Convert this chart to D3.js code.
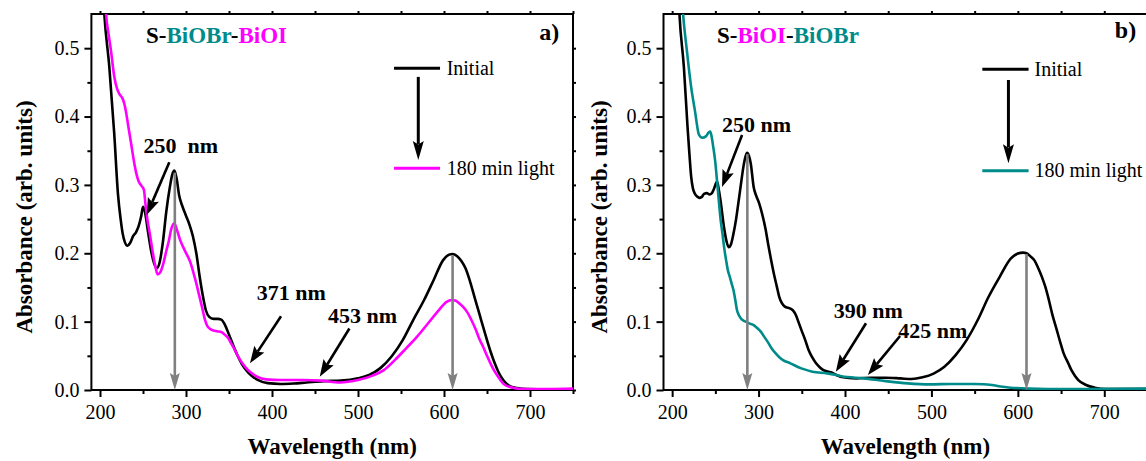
<!DOCTYPE html>
<html><head><meta charset="utf-8">
<script src="https://cdn.jsdelivr.net/npm/d3@7"></script>
<style>
body{margin:0;background:#fff}
svg{display:block}
svg text{font-family:"Liberation Serif","Times New Roman",Tinos,Times,"Nimbus Roman","DejaVu Serif",serif !important}
</style>
</head><body>
<svg id="c" width="1146" height="461"></svg>
<script>
// ---------- axes ----------
const xDomain = [190, 750];
const yDomain = [0, 0.55];
const xTicks = [200, 300, 400, 500, 600, 700];
const xMinorTicks = [250, 350, 450, 550, 650, 750];
const yTicks = [0, 0.1, 0.2, 0.3, 0.4, 0.5];
const yTickLabels = ["0.0", "0.1", "0.2", "0.3", "0.4", "0.5"];
const yMinorTicks = [0.05, 0.15, 0.25, 0.35, 0.45];
const xTitle = "Wavelength (nm)";
const yTitle = "Absorbance (arb. units)";

// ---------- panel a : S-BiOBr-BiOI ----------
const aInitialWl  = [202,205,210.8,216.5,221,224,226.5,229,232,235,238.5,242,245,248,250,252,256,260,263,266,269,273,277,281,284,286.5,289,292,296,300,304,308,312,316,320,323,327,332,337,341,345,350,355,360,365,370,376,384,395,410,425,440,460,480,500,513,526,539,552,564,577,588,599,606,610,615,620,625,630,635,641,646,650,655,659,663,667,672,678,685,697,720,750];
const aInitialAbs = [0.62,0.55,0.473,0.376,0.285,0.25,0.228,0.216,0.211,0.215,0.225,0.231,0.24,0.255,0.268,0.262,0.23,0.2,0.185,0.178,0.185,0.215,0.26,0.295,0.315,0.321,0.31,0.285,0.268,0.255,0.242,0.225,0.2,0.165,0.135,0.117,0.107,0.104,0.104,0.103,0.096,0.081,0.065,0.05,0.038,0.029,0.021,0.0145,0.01,0.0088,0.0095,0.011,0.013,0.0137,0.017,0.022,0.032,0.049,0.073,0.102,0.132,0.161,0.19,0.198,0.199,0.196,0.189,0.178,0.16,0.138,0.112,0.09,0.073,0.053,0.039,0.027,0.018,0.01,0.005,0.003,0.0015,0.0012,0.0012];
const aLightWl  = [204,207,210,212.7,216.5,220,223,226,228,230.5,233,236,239,242,245,248,251,253,255,258,261.5,264.5,267,270,273.6,277,280,283,286.5,289,293,299,305,309,312,315,318.5,322,325,330,336,341,345,349,353,357,361,365.5,370,374,382.6,393,410,436,457,479,500,517,530,543,556,568.7,581.5,594,603,609,613,617.6,622,626.4,632,637,641,645.6,650,654,658,663,667,671,680,693,727,750];
const aLightAbs = [0.62,0.55,0.52,0.497,0.459,0.44,0.432,0.427,0.42,0.405,0.385,0.362,0.338,0.318,0.305,0.299,0.293,0.27,0.25,0.228,0.2,0.18,0.169,0.172,0.185,0.203,0.218,0.236,0.244,0.236,0.22,0.203,0.187,0.17,0.156,0.14,0.122,0.103,0.093,0.088,0.086,0.085,0.081,0.076,0.067,0.058,0.048,0.039,0.032,0.027,0.0195,0.0156,0.0146,0.0146,0.0137,0.011,0.0146,0.021,0.029,0.044,0.061,0.078,0.0976,0.117,0.129,0.1317,0.131,0.127,0.122,0.115,0.102,0.088,0.075,0.063,0.05,0.039,0.029,0.0195,0.012,0.0073,0.0034,0.0015,0.0015,0.002];

// ---------- panel b : S-BiOI-BiOBr ----------
const bInitialWl  = [206,208.5,213.6,217.8,220,222,224,226.3,229,231.4,234,237,240,243.3,246,248,250,252,254,256,260,263,265.4,268,271,274,277,280,282.4,285,286.7,289,291,294.3,297,300.7,305,308,311,314.5,317.7,321,324,327,330.4,336.8,340,343,346,349.5,354,358,362,366.5,371,375,383.5,390,396,413,430,447,464,477,489.7,502.5,515,528,540.7,553.4,566,579,591.7,600,606,610,615,619,623,627.8,632,636,640,645,649,653,658,662,666,670,679,689,702,750];
const bInitialAbs = [0.62,0.549,0.472,0.385,0.345,0.312,0.295,0.287,0.283,0.281,0.282,0.287,0.288,0.286,0.288,0.293,0.3,0.305,0.293,0.277,0.238,0.217,0.209,0.213,0.229,0.25,0.277,0.305,0.326,0.342,0.347,0.342,0.331,0.297,0.285,0.273,0.253,0.236,0.214,0.19,0.17,0.152,0.136,0.127,0.122,0.119,0.116,0.11,0.1,0.088,0.073,0.058,0.048,0.039,0.033,0.029,0.026,0.022,0.019,0.017,0.018,0.018,0.017,0.016,0.0185,0.024,0.034,0.051,0.073,0.102,0.136,0.1655,0.192,0.1996,0.201,0.2,0.195,0.19,0.18,0.1655,0.15,0.131,0.11,0.088,0.07,0.0535,0.04,0.029,0.021,0.0146,0.0073,0.0034,0.0015,0.0015];
const bLightWl  = [209,212.7,217,222,226.3,230.6,233,235,239,242.5,244,245.5,247.5,249.7,252,254,256,258.2,260,262.4,264.5,266.7,269,271,273,275,277,279.4,283,285.8,290,294.3,298,302.8,307,311.3,315,319.8,324,328.3,336.8,349.5,362.3,379.3,390,396,421.7,447,472.7,498,523.7,549,560,570,580,591.7,613,634,676,750];
const bLightAbs = [0.62,0.549,0.497,0.443,0.409,0.375,0.37,0.369,0.371,0.377,0.378,0.372,0.356,0.336,0.305,0.277,0.25,0.229,0.21,0.19,0.175,0.1655,0.155,0.146,0.132,0.117,0.11,0.105,0.101,0.0998,0.097,0.095,0.091,0.085,0.077,0.069,0.061,0.0535,0.048,0.0438,0.039,0.0316,0.0268,0.0243,0.022,0.02,0.017,0.013,0.0097,0.0083,0.0088,0.0088,0.0085,0.0073,0.005,0.0034,0.002,0.0015,0.0015,0.002];

// gray "decrease" arrows: wavelength and top value
const aDropWl = [287, 610], aDropTop = [0.318, 0.197];
const bDropWl = [287, 610], bDropTop = [0.345, 0.199];

// peak annotations (label text, label pos, arrow from, arrow to) in data units
const aNotes = [
  {t:["250","nm"], x:250.5, y:0.346, ax1:280.6, ay1:0.333, ax2:254.3, ay2:0.256},
  {t:["371 nm"],   x:382.2, y:0.1317, ax1:410.5, ay1:0.108, ax2:374.4, ay2:0.039},
  {t:["453 nm"],   x:465.1, y:0.098, ax1:490.0, ay1:0.090, ax2:455.5, ay2:0.0195}
];
const bNotes = [
  {t:["250 nm"], x:257.7, y:0.378, ax1:280.9, ay1:0.373, ax2:257.7, ay2:0.297},
  {t:["390 nm"], x:387.1, y:0.105, ax1:424.3, ay1:0.0976, ax2:389.4, ay2:0.0268},
  {t:["425 nm"], x:461.5, y:0.076, ax1:463.7, ay1:0.079, ax2:426.5, ay2:0.022}
];

const seriesNames = ["Initial", "180 min light"];
const aTitle = [["S-","#000"],["BiOBr","#008b8b"],["-","#000"],["BiOI","#ff00ff"]];
const bTitle = [["S-","#000"],["BiOI","#ff00ff"],["-","#000"],["BiOBr","#008b8b"]];

// ---------- drawing ----------
const FONT = "'Liberation Serif','Times New Roman',Tinos,Times,'Nimbus Roman','DejaVu Serif',serif";
const svg = d3.select("#c");

function arrow(g, x1, y1, x2, y2, color, w, len, half) {
  const dx = x2 - x1, dy = y2 - y1, L = Math.hypot(dx, dy), ux = dx / L, uy = dy / L;
  const bx = x2 - ux * len, by = y2 - uy * len, px = -uy, py = ux;
  g.append("line").attr("x1", x1).attr("y1", y1)
    .attr("x2", bx + ux * 3).attr("y2", by + uy * 3)
    .attr("stroke", color).attr("stroke-width", w);
  g.append("path")
    .attr("d", `M${x2},${y2}L${bx + px * half},${by + py * half}L${bx + ux * len * 0.18},${by + uy * len * 0.18}L${bx - px * half},${by - py * half}Z`)
    .attr("fill", color);
}

function panel(o) {
  const g = svg.append("g").attr("font-family", FONT);
  const x = d3.scaleLinear().domain(xDomain).range(o.xr);
  const y = d3.scaleLinear().domain(yDomain).range([390, 14]);
  const id = "clip" + o.key;
  g.append("clipPath").attr("id", id).append("rect")
    .attr("x", o.xr[0]).attr("y", 14).attr("width", o.xr[1] - o.xr[0]).attr("height", 376);

  // axes
  const bottom = g.append("g").attr("transform", "translate(0,390)")
    .call(d3.axisBottom(x).tickValues(xTicks).tickSize(7).tickFormat(d3.format("d")));
  bottom.selectAll("text").attr("y", 0).attr("dy", "29px").style("font-size", "20px");
  g.append("g").attr("transform", "translate(0,390)")
    .call(d3.axisBottom(x).tickValues(xMinorTicks).tickSize(4).tickFormat(""));
  g.append("g").attr("transform", "translate(0,14)")
    .call(d3.axisTop(x).tickValues(xTicks.concat(xMinorTicks)).tickSize(3).tickFormat(""));
  const left = g.append("g").attr("transform", `translate(${o.xr[0]},0)`)
    .call(d3.axisLeft(y).tickValues(yTicks).tickSize(7).tickFormat((d, i) => yTickLabels[i]));
  left.selectAll("text").attr("x", -12).style("font-size", "20px");
  g.append("g").attr("transform", `translate(${o.xr[0]},0)`)
    .call(d3.axisLeft(y).tickValues(yMinorTicks).tickSize(4).tickFormat(""));
  g.append("g").attr("transform", `translate(${o.xr[1]},0)`)
    .call(d3.axisRight(y).tickValues(yTicks.concat(yMinorTicks)).tickSize(3).tickFormat(""));
  g.selectAll(".domain").remove();
  g.selectAll("g").attr("font-family", FONT);
  g.selectAll(".tick line").attr("stroke", "#000").attr("stroke-width", 2);
  g.selectAll(".tick text").attr("fill", "#000");

  // frame
  g.append("rect").attr("x", o.xr[0]).attr("y", 14)
    .attr("width", o.xr[1] - o.xr[0]).attr("height", 376)
    .attr("fill", "none").attr("stroke", "#000").attr("stroke-width", 2);

  // curves
  const line = d3.line().x(d => x(d[0])).y(d => y(d[1])).curve(d3.curveMonotoneX);
  const cg = g.append("g").attr("clip-path", `url(#${id})`);
  cg.append("path").datum(d3.zip(o.initWl, o.initAbs)).attr("d", line)
    .attr("fill", "none").attr("stroke", "#000").attr("stroke-width", 2.6).attr("stroke-linejoin", "round");
  cg.append("path").datum(d3.zip(o.lightWl, o.lightAbs)).attr("d", line)
    .attr("fill", "none").attr("stroke", o.color).attr("stroke-width", 2.6).attr("stroke-linejoin", "round");

  // gray decrease arrows
  o.dropWl.forEach((w, i) => arrow(g, x(w), y(o.dropTop[i]), x(w), y(0), "#808080", 2.6, 17, 5));

  // annotations
  o.notes.forEach(n => {
    const t = g.append("text").attr("x", x(n.x)).attr("y", y(n.y))
      .style("font-size", "22px").style("font-weight", "bold").attr("fill", "#000");
    n.t.forEach((s, i) => t.append("tspan").attr("dx", i ? 11 : 0).text(s));
    arrow(g, x(n.ax1), y(n.ay1), x(n.ax2), y(n.ay2), "#000", 2.6, 17, 6);
  });

  // legend
  const L = o.legend;
  g.append("line").attr("x1", x(L.x1)).attr("x2", x(L.x2)).attr("y1", y(L.y1)).attr("y2", y(L.y1))
    .attr("stroke", "#000").attr("stroke-width", 3);
  g.append("line").attr("x1", x(L.x1)).attr("x2", x(L.x2)).attr("y1", y(L.y2)).attr("y2", y(L.y2))
    .attr("stroke", o.color).attr("stroke-width", 3);
  g.append("text").attr("x", x(L.tx)).attr("y", y(L.y1) + 6.8).style("font-size", "20px").text(seriesNames[0]);
  g.append("text").attr("x", x(L.tx)).attr("y", y(L.y2) + 6.8).style("font-size", "20px").text(seriesNames[1]);
  arrow(g, x(L.ax), y(L.ay1), x(L.ax), y(L.ay2), "#000", 3, 19, 5.5);

  // title + letter
  const tt = g.append("text").attr("x", x(o.titlePos[0])).attr("y", y(o.titlePos[1]))
    .style("font-size", "23px").style("font-weight", "bold");
  o.title.forEach(([s, c]) => tt.append("tspan").attr("fill", c).text(s));
  g.append("text").attr("x", x(o.letterPos[0])).attr("y", y(o.letterPos[1]))
    .style("font-size", "24px").style("font-weight", "bold").text(o.letter);

  // axis titles
  g.append("text").attr("x", (o.xr[0] + o.xr[1]) / 2).attr("y", 454).attr("text-anchor", "middle")
    .style("font-size", "23px").style("font-weight", "bold").text(xTitle);
  g.append("text").attr("transform", `translate(${o.xr[0] - o.yTitleOff},217) rotate(-90)`)
    .attr("text-anchor", "middle").style("font-size", "23px").style("font-weight", "bold").text(yTitle);
}

panel({key: "a", xr: [91.4, 573], color: "#ff00ff",
  initWl: aInitialWl, initAbs: aInitialAbs, lightWl: aLightWl, lightAbs: aLightAbs,
  dropWl: aDropWl, dropTop: aDropTop, notes: aNotes,
  legend: {x1: 541.9, x2: 595.4, y1: 0.4706, y2: 0.3243, tx: 603.1, ax: 570.1, ay1: 0.458, ay2: 0.3364},
  title: aTitle, titlePos: [253.5, 0.5076], letter: "a)", letterPos: [710.8, 0.512], yTitleOff: 59});

panel({key: "b", xr: [663.5, 1147.5], color: "#008b8b",
  initWl: bInitialWl, initAbs: bInitialAbs, lightWl: bLightWl, lightAbs: bLightAbs,
  dropWl: bDropWl, dropTop: bDropTop, notes: bNotes,
  legend: {x1: 558.9, x2: 612.4, y1: 0.469, y2: 0.3208, tx: 619.3, ax: 589.1, ay1: 0.4535, ay2: 0.3316},
  title: bTitle, titlePos: [251.9, 0.508], letter: "b)", letterPos: [712.2, 0.515], yTitleOff: 57});
</script>
</body></html>
